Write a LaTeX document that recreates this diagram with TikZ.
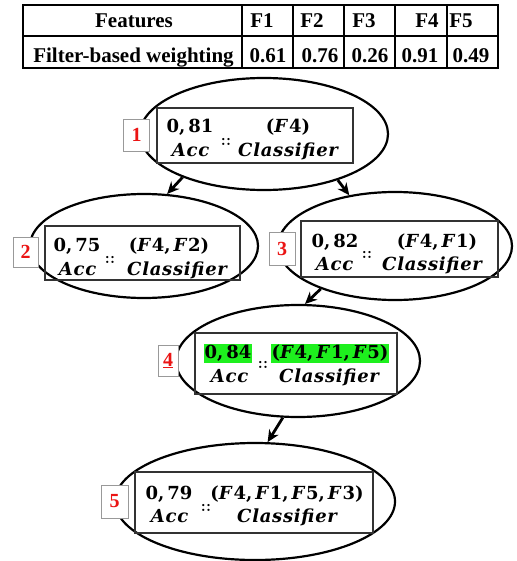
\documentclass[tikz,border=0pt]{standalone}
\usepackage{fontspec}
\newfontfamily\tnr{Liberation Serif}
\newfontfamily\cam{DejaVu Serif}[BoldItalicFeatures={LetterSpace=4}]
\newcommand\vi[1]{\textit{#1}}
\usetikzlibrary{shapes.geometric,arrows.meta}
\definecolor{hl}{RGB}{30,240,30}
\definecolor{numred}{RGB}{235,20,20}
\tikzset{
  cell/.style={draw, line width=1.8pt, inner sep=0pt, minimum height=31pt},
  ttext/.style={font=\tnr\bfseries\fontsize{21}{24}\selectfont, anchor=base, inner sep=0pt},
  oval/.style={ellipse, draw, line width=2.2pt, inner sep=0pt},
  inbox/.style={draw=black!80, line width=1.4pt, inner sep=0pt},
  mtext/.style={font=\cam\bfseries\fontsize{18}{22}\selectfont, anchor=base, inner sep=0pt},
  colons/.style={font=\fontsize{16}{16}\selectfont\bfseries, inner sep=0pt},
  lab/.style={draw=black!40, line width=0.8pt, fill=white, inner sep=0pt,
    minimum width=26pt, minimum height=32pt, text=numred,
    font=\tnr\bfseries\fontsize{20}{22}\selectfont},
  hlbox/.style={fill=hl, inner xsep=1pt, inner ysep=1pt, text height=13.5pt, text depth=3.5pt},
  arr/.style={line width=2.8pt, -{Stealth[length=12pt,width=11pt]}}
}
\begin{document}
\begin{tikzpicture}[x=1pt,y=-1pt]
\useasboundingbox (0,0) rectangle (516,561);
% table
\node[cell, minimum width=219pt] (h0) at (132.5,20.5) {};
\node[cell, minimum width=51pt] (h1) at (267.5,20.5) {};
\node[cell, minimum width=51pt] (h2) at (318.5,20.5) {};
\node[cell, minimum width=51pt] (h3) at (369.5,20.5) {};
\node[cell, minimum width=52pt] (h4) at (421,20.5) {};
\node[cell, minimum width=51pt] (h5) at (472.5,20.5) {};
\node[cell, minimum width=219pt, minimum height=32pt] (r0) at (132.5,52) {};
\node[cell, minimum width=51pt, minimum height=32pt] (r1) at (267.5,52) {};
\node[cell, minimum width=51pt, minimum height=32pt] (r2) at (318.5,52) {};
\node[cell, minimum width=51pt, minimum height=32pt] (r3) at (369.5,52) {};
\node[cell, minimum width=52pt, minimum height=32pt] (r4) at (421,52) {};
\node[cell, minimum width=51pt, minimum height=32pt] (r5) at (472.5,52) {};
\node[ttext] (th0) at (134,28) {Features};
\node[ttext] (th1) at (262,28) {F1};
\node[ttext] (th2) at (312,28) {F2};
\node[ttext] (th3) at (364,28) {F3};
\node[ttext] (th4) at (427,28) {F4};
\node[ttext] (th5) at (461,28) {F5};
\node[ttext] (tr0) at (133.5,63) {Filter-based weighting};
\node[ttext] (tr1) at (268,63) {0.61};
\node[ttext] (tr2) at (320,63) {0.76};
\node[ttext] (tr3) at (370,63) {0.26};
\node[ttext] (tr4) at (420,63) {0.91};
\node[ttext] (tr5) at (471,63) {0.49};
% ellipses
\node[oval, minimum width=248pt, minimum height=112pt] (e1) at (264,134) {};
\node[oval, minimum width=228pt, minimum height=104pt] (e2) at (144,246) {};
\node[oval, minimum width=234pt, minimum height=108pt] (e3) at (395,246) {};
\node[oval, minimum width=244pt, minimum height=112pt] (e4) at (298,361) {};
\node[oval, minimum width=280pt, minimum height=117pt] (e5) at (255,501.5) {};
% inner boxes
\node[inbox, minimum width=196pt, minimum height=55pt] (b1) at (255,135.5) {};
\node[inbox, minimum width=195pt, minimum height=54pt] (b2) at (142.5,253) {};
\node[inbox, minimum width=197pt, minimum height=56pt] (b3) at (399.5,249) {};
\node[inbox, minimum width=202pt, minimum height=61pt] (b4) at (296,363.5) {};
\node[inbox, minimum width=238pt, minimum height=61pt] (b5) at (254,502.5) {};
% labels
\node[lab] (l1) at (136.5,135) {1};
\node[lab, minimum width=25pt, minimum height=30pt] (l2) at (25.5,252) {2};
\node[lab, minimum height=33pt] (l3) at (282,248.5) {3};
\node[lab, minimum width=20pt, minimum height=31pt] (l4) at (168,360.5) {\underline{4}};
\node[lab, minimum width=27pt, minimum height=33pt] (l5) at (114.5,501.5) {5};
% texts 1
\node[mtext] (a1) at (190,133) {0,\,81};
\node[mtext] (c1) at (191,157) {\vi{Acc}};
\node[colons] (d1) at (226,142) {::};
\node[mtext] (f1) at (288,133) {(\vi{F}4)};
\node[mtext] (k1) at (289,157) {\vi{Classifier}};
% texts 2
\node[mtext] (a2) at (77,251) {0,\,75};
\node[mtext] (c2) at (78,275) {\vi{Acc}};
\node[colons] (d2) at (110,260) {::};
\node[mtext] (f2) at (169,251) {(\vi{F}4,\,\vi{F}2)};
\node[mtext] (k2) at (178,275) {\vi{Classifier}};
% texts 3
\node[mtext] (a3) at (335,247) {0,\,82};
\node[mtext] (c3) at (335,270) {\vi{Acc}};
\node[colons] (d3) at (367,255) {::};
\node[mtext] (f3) at (437,247) {(\vi{F}4,\,\vi{F}1)};
\node[mtext] (k3) at (433,270) {\vi{Classifier}};
% texts 4
\node[mtext, hlbox] (a4) at (228,358) {0,\,84};
\node[mtext] (c4) at (230,382) {\vi{Acc}};
\node[colons] (d4) at (263,365) {::};
\node[mtext, hlbox] (f4) at (330,358) {(\vi{F}4,\,\vi{F}1,\,\vi{F}5)};
\node[mtext] (k4) at (330,382) {\vi{Classifier}};
% texts 5
\node[mtext] (a5) at (169,499) {0,\,79};
\node[mtext] (c5) at (170,522) {\vi{Acc}};
\node[colons] (d5) at (206,508) {::};
\node[mtext] (f5) at (287,499) {(\vi{F}4,\,\vi{F}1,\,\vi{F}5,\,\vi{F}3)};
\node[mtext] (k5) at (288,522) {\vi{Classifier}};
% arrows
\draw[arr] (e1.208) -- (e2.66);
\draw[arr] (e1.-32) -- (e3.132);
\draw[arr] (e3.210) -- (e4.83);
\draw[arr] (e4.255) -- (e5.78);
\end{tikzpicture}
\end{document}
